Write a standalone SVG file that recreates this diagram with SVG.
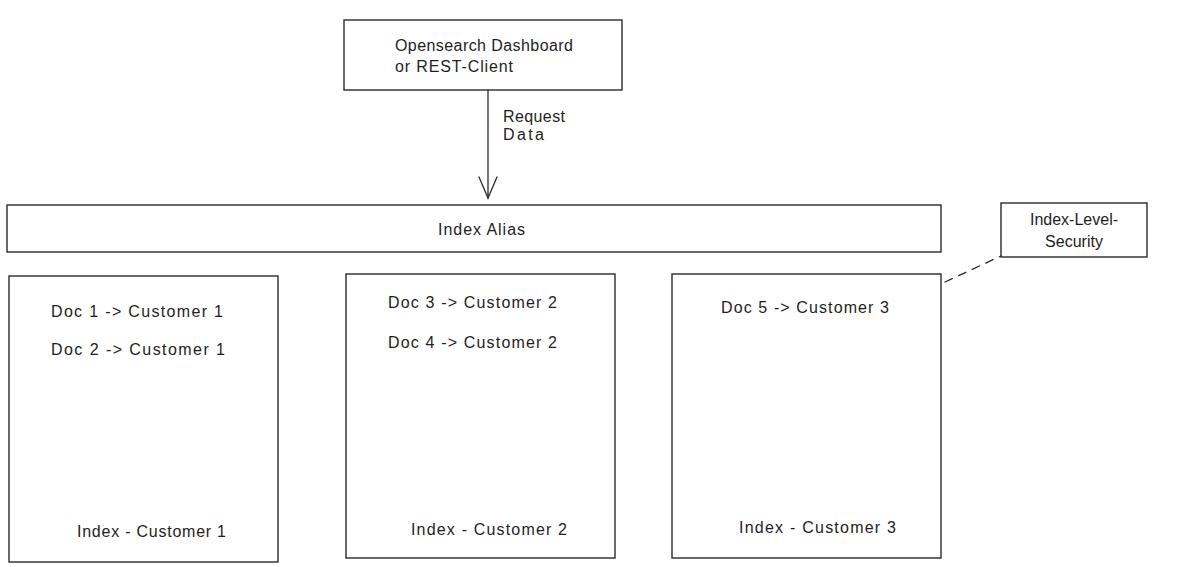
<svg xmlns="http://www.w3.org/2000/svg" width="1183" height="567" viewBox="0 0 1183 567">
<style>
.box{fill:#ffffff;stroke:#2a2a2a;stroke-width:1.4}
.t{font-family:"Liberation Sans",Arial,sans-serif;font-size:16px;fill:#1e1e1e}
.c{text-anchor:middle}
.edge{fill:none;stroke:#2a2a2a;stroke-width:1.3;stroke-linecap:round}
</style>
<rect width="1183" height="567" fill="#ffffff"/>
<g id="client">
<rect class="box" x="344" y="20" width="278" height="70"/>
<text class="t" x="395" y="51" textLength="178">Opensearch Dashboard</text>
<text class="t" x="395" y="72" textLength="118">or REST-Client</text>
</g>
<g id="alias">
<rect class="box" x="7" y="205" width="934" height="47"/>
<text class="t" x="438" y="235" textLength="87">Index Alias</text>
</g>
<g id="security">
<rect class="box" x="1001" y="203" width="146" height="54"/>
<text class="t c" x="1074" y="225">Index-Level-</text>
<text class="t c" x="1074" y="247">Security</text>
</g>
<g id="index1">
<rect class="box" x="9" y="276" width="269" height="286"/>
<text class="t" x="51" y="317" textLength="172">Doc 1 -&gt; Customer 1</text>
<text class="t" x="51" y="355" textLength="174">Doc 2 -&gt; Customer 1</text>
<text class="t" x="77" y="537" textLength="149">Index - Customer 1</text>
</g>
<g id="index2">
<rect class="box" x="346" y="274" width="269" height="284"/>
<text class="t" x="388" y="308" textLength="169">Doc 3 -&gt; Customer 2</text>
<text class="t" x="388" y="348" textLength="169">Doc 4 -&gt; Customer 2</text>
<text class="t" x="411" y="535" textLength="156">Index - Customer 2</text>
</g>
<g id="index3">
<rect class="box" x="672" y="274" width="269" height="284"/>
<text class="t" x="721" y="313" textLength="168">Doc 5 -&gt; Customer 3</text>
<text class="t" x="739" y="533" textLength="157">Index - Customer 3</text>
</g>
<g id="connectors">
<line class="edge" x1="488" y1="90" x2="488" y2="198"/>
<polyline class="edge" points="479,177 488,198 497,177"/>
<text class="t" x="503" y="122" textLength="62">Request</text>
<text class="t" x="503" y="140" textLength="41">Data</text>
<line class="edge" x1="945" y1="282" x2="1001" y2="256" stroke-dasharray="8,7"/>
</g>
</svg>
